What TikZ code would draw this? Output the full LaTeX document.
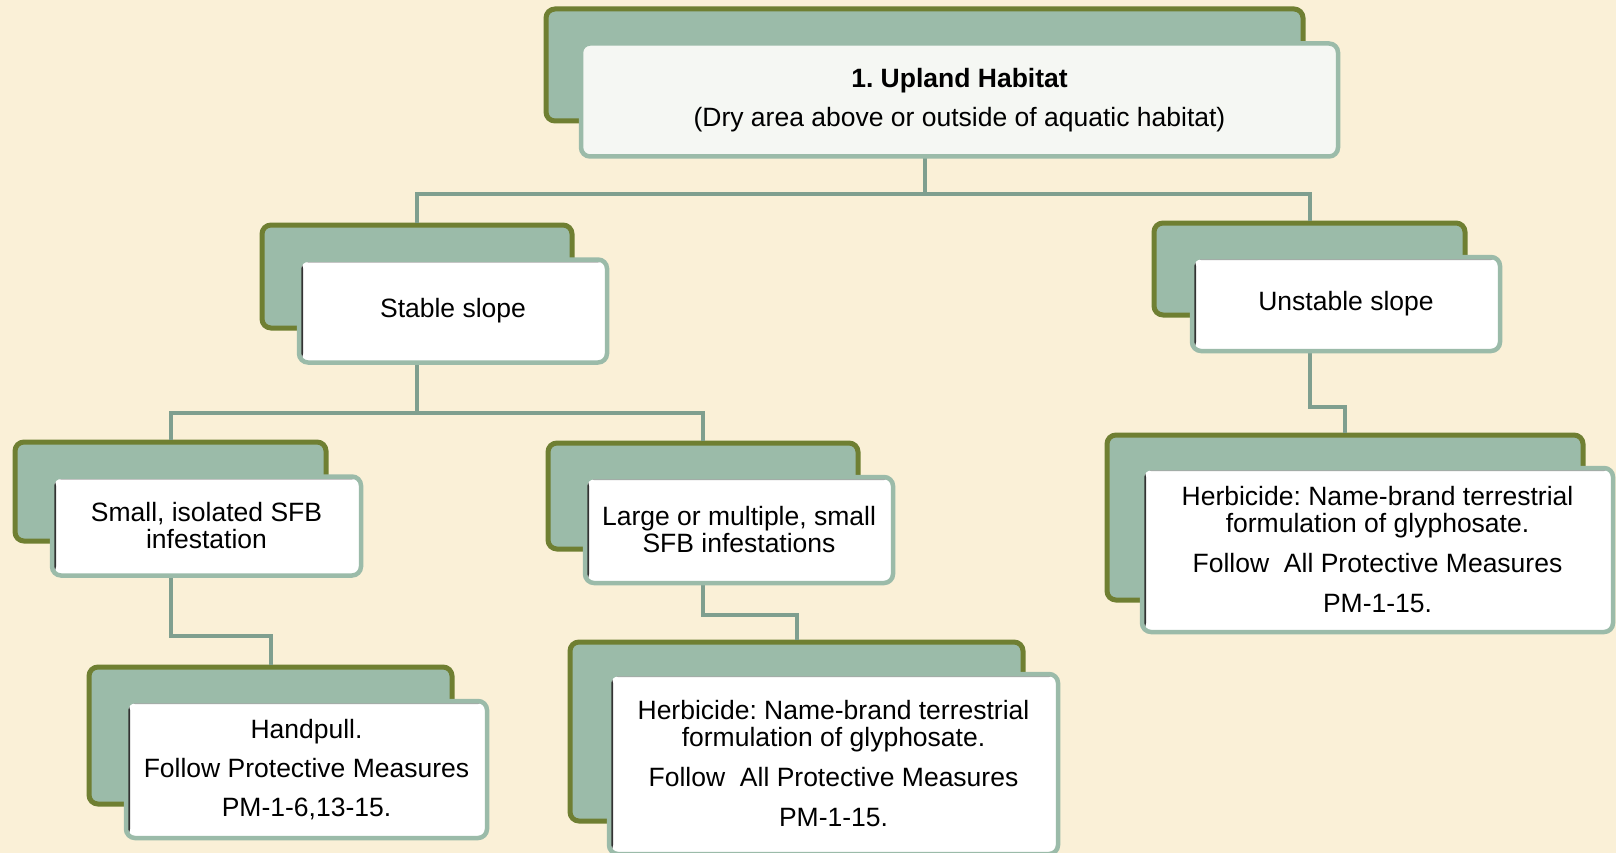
\documentclass[tikz,border=0pt]{standalone}
\usepackage{fontspec}
\setmainfont{Liberation Sans}
\frenchspacing
\definecolor{cream}{HTML}{FAF0D7}
\definecolor{sage}{HTML}{9BBBA9}
\definecolor{olivegreen}{HTML}{6F7F32}
\definecolor{linkgreen}{HTML}{7F9F8F}
\definecolor{paleface}{HTML}{F5F7F3}
\begin{document}
\begin{tikzpicture}[x=1pt,y=-1pt,
    backbox/.style={draw=olivegreen, line width=5pt, fill=sage, rounded corners=9pt, inner sep=0pt},
    frontbox/.style={draw=sage, line width=4.5pt, fill=white, rounded corners=9pt, inner sep=0pt,
      align=center, font=\fontsize{26.5}{27}\selectfont},
    edgeshadow/.style={path picture={
      \fill[black!80] ([xshift=2pt]path picture bounding box.south west)
        rectangle ([xshift=4pt]path picture bounding box.north west);
      \fill[black!35] ([yshift=-2pt]path picture bounding box.north west)
        rectangle ([yshift=-3pt]path picture bounding box.north east);}},
    link/.style={draw=linkgreen, line width=4pt}]
  \fill[cream] (0,0) rectangle (1616,853);
  \useasboundingbox (0,0) rectangle (1616,853);
  \node[backbox, minimum width=757pt, minimum height=112pt] (upback) at (924.5,65) {};
  \node[backbox, minimum width=310pt, minimum height=103pt] (stableback) at (417,276.5) {};
  \node[backbox, minimum width=311pt, minimum height=92pt] (unstableback) at (1309.5,269) {};
  \node[backbox, minimum width=311pt, minimum height=99pt] (smallback) at (170.5,491.5) {};
  \node[backbox, minimum width=310pt, minimum height=106pt] (largeback) at (703,496) {};
  \node[backbox, minimum width=363pt, minimum height=137pt] (handback) at (270.5,735.5) {};
  \node[backbox, minimum width=453pt, minimum height=179pt] (midback) at (796.5,731.5) {};
  \node[backbox, minimum width=476pt, minimum height=165pt] (rightback) at (1345,517.5) {};
  \begin{scope}[link]
    \draw (upback.south) -- ++(0,71) -| (stableback.north);
    \draw (upback.south) -- ++(0,71) -| (unstableback.north);
    \draw (stableback.south) -- ++(0,82) -| (smallback.north);
    \draw (stableback.south) -- ++(0,82) -| (largeback.north);
    \draw (unstableback.south) -- ++(0,89) -| (rightback.north);
    \draw (smallback.south) -- ++(0,92) -| (handback.north);
    \draw (largeback.south) -- ++(0,63) -| (midback.north);
  \end{scope}
  \node[frontbox, fill=paleface, minimum width=757pt, minimum height=113pt] (upland) at (959.5,100)
    {\textbf{1. Upland Habitat}\\[12pt](Dry area above or outside of aquatic habitat)};
  \node[frontbox, edgeshadow, minimum width=308pt, minimum height=103pt] (stable) at (453,311) {Stable slope};
  \node[frontbox, edgeshadow, minimum width=308pt, minimum height=94pt] (unstable) at (1346,304) {Unstable slope};
  \node[frontbox, edgeshadow, minimum width=309pt, minimum height=99pt] (small) at (206.5,526)
    {Small, isolated SFB\\infestation};
  \node[frontbox, edgeshadow, minimum width=308pt, minimum height=106pt] (large) at (739,530)
    {Large or multiple, small\\SFB infestations};
  \node[frontbox, edgeshadow, minimum width=361pt, minimum height=137pt] (handpull) at (306.5,769.5)
    {Handpull.\\[12pt]Follow Protective Measures\\[12pt]PM-1-6,13-15.};
  \node[frontbox, edgeshadow, minimum width=449pt, minimum height=180pt] (midherb) at (833.5,764)
    {Herbicide: Name-brand terrestrial\\formulation of glyphosate.\\[13pt]Follow\ \ All Protective Measures\\[13pt]PM-1-15.};
  \node[frontbox, edgeshadow, minimum width=471pt, minimum height=164pt] (rightherb) at (1377.5,550)
    {Herbicide: Name-brand terrestrial\\formulation of glyphosate.\\[13pt]Follow\ \ All Protective Measures\\[13pt]PM-1-15.};
\end{tikzpicture}
\end{document}
